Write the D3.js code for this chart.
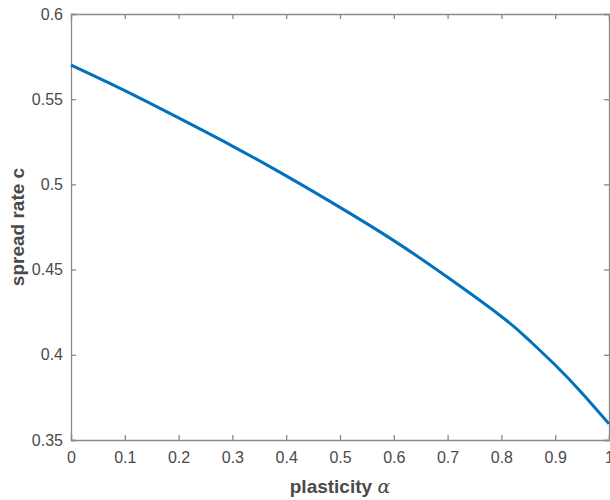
<!DOCTYPE html>
<html>
<head>
<meta charset="utf-8">
<script src="https://cdn.jsdelivr.net/npm/d3@7"></script>
<style>
  body { margin: 0; background: #fff; }
  text { font-family: "Liberation Sans", Arial, sans-serif; }
</style>
</head>
<body>
<div id="chart"></div>
<script>
// values
const alpha = [0, 0.1, 0.2, 0.3, 0.4, 0.5, 0.6, 0.7, 0.8, 0.85, 0.9, 0.95, 1.0];
const spread = [0.570, 0.555, 0.539, 0.5225, 0.505, 0.4865, 0.467, 0.4455, 0.4225, 0.409, 0.394, 0.3775, 0.3595];
const xTicks = [0, 0.1, 0.2, 0.3, 0.4, 0.5, 0.6, 0.7, 0.8, 0.9, 1];
const yTicks = [0.35, 0.4, 0.45, 0.5, 0.55, 0.6];

const width = 610, height = 500;
const margin = { top: 14, right: 0, bottom: 60, left: 71 };
const axisColor = "#8a8a8a";
const labelColor = "#4a4a4a";

const svg = d3.select("#chart")
  .append("svg")
  .attr("width", width)
  .attr("height", height);

const x = d3.scaleLinear().domain([0, 1]).range([margin.left, width - margin.right - 1]);
const y = d3.scaleLinear().domain([0.35, 0.6]).range([height - margin.bottom, margin.top]);

// 坐標軸 (inward ticks, like matlab)
const xAxis = d3.axisBottom(x).tickValues(xTicks).tickSize(-5).tickPadding(12)
  .tickFormat(d => d === 1 ? "1" : d3.format("")(d));
const yAxis = d3.axisLeft(y).tickValues(yTicks).tickSize(-5).tickPadding(8)
  .tickFormat(d3.format(""));

svg.append("g")
  .attr("transform", `translate(0,${y(0.35)})`)
  .call(xAxis);
svg.append("g")
  .attr("transform", `translate(${x(0)},0)`)
  .call(yAxis);

// top and right ticks
svg.append("g")
  .attr("transform", `translate(0,${y(0.6)})`)
  .call(d3.axisTop(x).tickValues(xTicks).tickSize(-5).tickFormat(""));
svg.append("g")
  .attr("transform", `translate(${x(1)},0)`)
  .call(d3.axisRight(y).tickValues(yTicks).tickSize(-5).tickFormat(""));

svg.selectAll(".domain").attr("stroke", axisColor).attr("stroke-width", 1.3);
svg.selectAll(".tick line").attr("stroke", axisColor).attr("stroke-width", 1.3);
svg.selectAll(".tick text")
  .attr("fill", labelColor)
  .style("font-size", "16px")
  .style("font-family", "'Liberation Sans', Arial, sans-serif");

// the curve
const line = d3.line()
  .x((d, i) => x(alpha[i]))
  .y(d => y(d))
  .curve(d3.curveNatural);

svg.append("path")
  .datum(spread)
  .attr("fill", "none")
  .attr("stroke", "#0072BD")
  .attr("stroke-width", 3)
  .attr("d", line);

// axis labels
const xl = svg.append("text")
  .attr("x", (x(0) + x(1)) / 2)
  .attr("y", 493)
  .attr("text-anchor", "middle")
  .attr("fill", labelColor)
  .style("font-size", "19px")
  .style("font-weight", "bold");
xl.append("tspan").text("plasticity ");
xl.append("tspan")
  .style("font-family", "'DejaVu Serif', serif")
  .style("font-style", "italic")
  .style("font-weight", "normal")
  .text("α");

svg.append("text")
  .attr("transform", `translate(24,${(y(0.35) + y(0.6)) / 2}) rotate(-90)`)
  .attr("text-anchor", "middle")
  .attr("fill", labelColor)
  .style("font-size", "19px")
  .style("font-weight", "bold")
  .text("spread rate c");
</script>
</body>
</html>
